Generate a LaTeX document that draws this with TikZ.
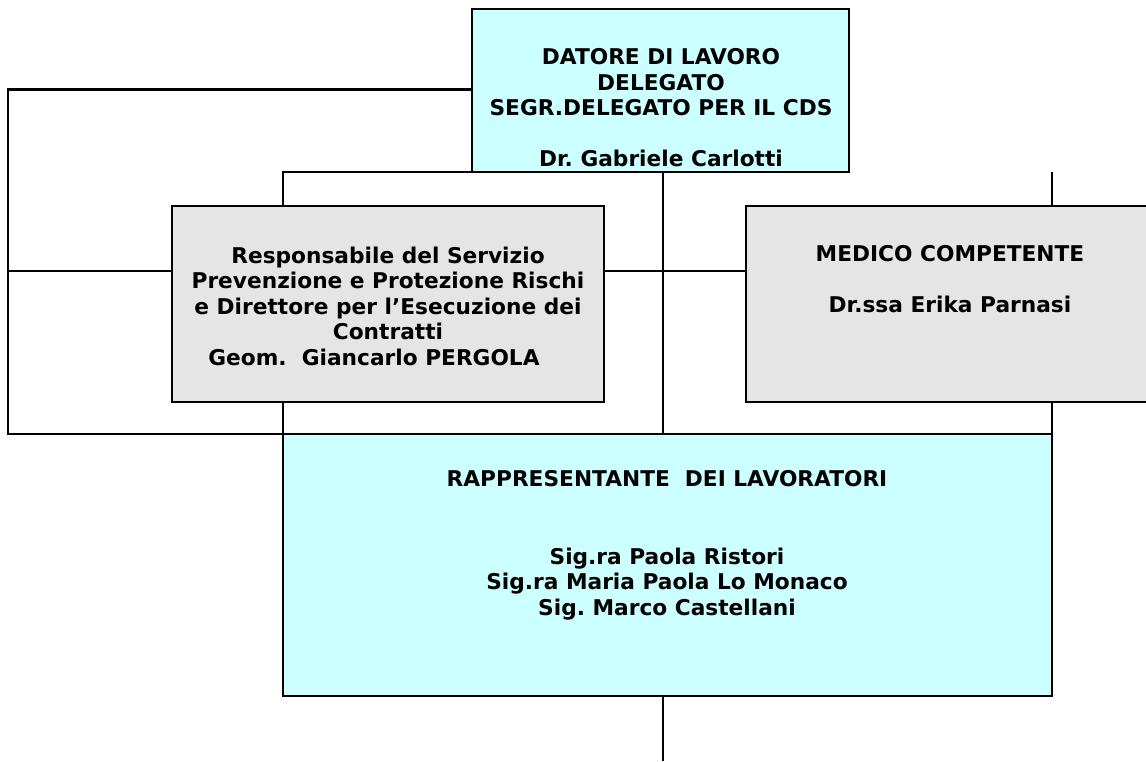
\documentclass[tikz,border=0pt]{standalone}
\usepackage{fontspec}
\setmainfont{DejaVu Sans}
\frenchspacing
\definecolor{boxcyan}{HTML}{CCFFFF}
\definecolor{boxgray}{HTML}{E5E5E5}
\begin{document}
\begin{tikzpicture}[x=1pt,y=-1pt,
  box/.style={draw=black,line width=2.3pt,inner sep=0pt,outer sep=0pt,anchor=north west},
  cyanbox/.style={box,fill=boxcyan},
  graybox/.style={box,fill=boxgray},
  txt/.style={align=center,inner sep=0pt,font=\fontsize{21.7}{25.5}\selectfont\bfseries},
  conn/.style={draw=black,line width=2.3pt}]
\useasboundingbox (0,0) rectangle (1146,761);
\clip (0,0) rectangle (1146,761);
% boxes
\node[cyanbox,minimum width=377pt,minimum height=163pt] (top) at (472,9) {};
\node[graybox,minimum width=432pt,minimum height=196pt] (rspp) at (172,206) {};
\node[graybox,minimum width=408pt,minimum height=196pt] (med) at (746,206) {};
\node[cyanbox,minimum width=769pt,minimum height=262pt] (rls) at (283,434) {};
% texts
\node[txt] (ttop) at (661,108) {DATORE DI LAVORO\\DELEGATO\\SEGR.DELEGATO PER IL CDS\\[25.5pt]Dr. Gabriele Carlotti};
\node[txt] (trspp) at (388,306) {Responsabile del Servizio\\Prevenzione e Protezione Rischi\\e Direttore per l’Esecuzione dei\\Contratti\\Geom.\ \ Giancarlo PERGOLA\hspace*{28pt}};
\node[txt] (tmed) at (950,279) {MEDICO COMPETENTE\\[25.5pt]Dr.ssa Erika Parnasi};
\node[txt] (trls1) at (667,479) {RAPPRESENTANTE\ \ DEI LAVORATORI};
\node[txt] (trls2) at (667,584) {Sig.ra Paola Ristori\\Sig.ra Maria Paola Lo Monaco\\Sig. Marco Castellani};
% helper coordinates
\coordinate (tl) at (8,89.5);
\coordinate (bl) at (8,434);
\coordinate (ml) at (8,271);
\coordinate (endb) at (663,761);
% connectors
\draw[conn] (top.west |- tl) -- (tl) -- (bl) -- (rls.north west);
\draw[conn] (ml) -- (ml -| rspp.west);
\draw[conn] (rspp.east |- ml) -- (med.west |- ml);
\draw[conn] (top.south west) -| (rspp.north west -| rls.north west);
\draw[conn] (rspp.south west -| rls.north west) -- (rls.north west);
\draw[conn] ([xshift=2.5pt]top.south) -- ([xshift=2.5pt]top.south |- rls.north);
\draw[conn] (rls.north east) -- (rls.north east |- med.south);
\draw[conn] (rls.north east |- med.north) -- (rls.north east |- top.south);
\draw[conn] (rls.south -| endb) -- (endb);
\end{tikzpicture}
\end{document}
